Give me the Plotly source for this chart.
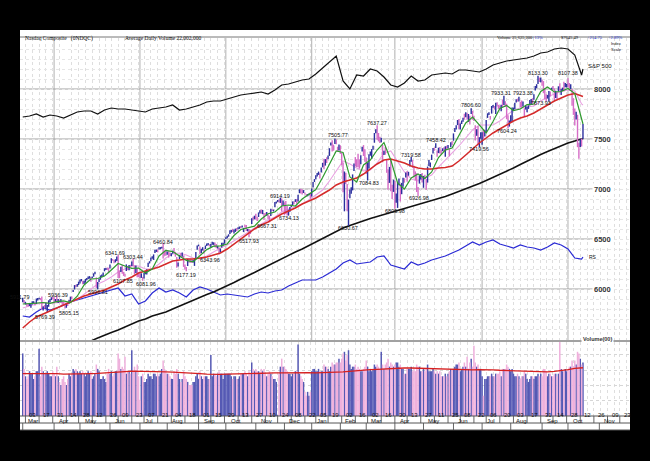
import pandas as pd
import plotly.graph_objects as go

# Nasdaq Composite daily chart, Mar 2017 - Oct 2018

HOLIDAYS = ["2017-04-14", "2017-05-29", "2017-07-04", "2017-09-04", "2017-11-23",
            "2017-12-25", "2018-01-01", "2018-01-15", "2018-02-19", "2018-03-30",
            "2018-05-28", "2018-07-04", "2018-09-03", "2018-11-22"]

highs = [
    5912, 5890, 5872, 5858, 5850, 5861, 5849, 5878, 5878, 5868, 5905, 5910, 5912, 5910, 5925, 5828, 5840, 5862, 5840, 5887, 5900, 5918, 5921,
    5917, 5900, 5936, 5900, 5895, 5900, 5877, 5869, 5838, 5856, 5866, 5891, 5924, 5926, 5990, 6039, 6043, 6050, 6074,
    6096, 6100, 6083, 6083, 6100, 6109, 6125, 6129, 6119, 6126, 6157, 6172, 6116, 6070, 6103, 6136, 6145, 6164, 6208, 6210, 6215, 6213,
    6246, 6308, 6300, 6290, 6298, 6324, 6342, 6186, 6222, 6240, 6172, 6152, 6246, 6230, 6240, 6242, 6275, 6303, 6237, 6236, 6211, 6166,
    6155, 6157, 6121, 6160, 6180, 6197, 6262, 6278, 6314, 6328, 6346, 6392, 6395, 6396, 6417, 6419, 6423, 6461, 6383, 6391,
    6374, 6378, 6364, 6358, 6384, 6409, 6371, 6319, 6265, 6342, 6357, 6365, 6335, 6246, 6221, 6301, 6292, 6302, 6297, 6290, 6309, 6371, 6434,
    6444, 6424, 6403, 6418, 6397, 6435, 6456, 6461, 6448, 6451, 6473, 6467, 6465, 6451, 6432, 6415, 6405, 6463, 6463, 6497,
    6518, 6532, 6547, 6587, 6591, 6602, 6596, 6604, 6610, 6618, 6625, 6629, 6635, 6611, 6643, 6640, 6600, 6599, 6590, 6708, 6722, 6733,
    6753, 6722, 6765, 6788, 6795, 6790, 6759, 6757, 6771, 6745, 6732, 6802, 6798, 6794, 6871, 6874, 6890, 6895, 6914, 6906, 6884,
    6867, 6880, 6830, 6794, 6821, 6844, 6876, 6877, 6898, 6901, 6943, 6997, 7003, 6997, 6989, 6965, 6951, 6949, 6955, 6966,
    7006, 7069, 7099, 7137, 7161, 7174, 7157, 7214, 7262, 7303, 7299, 7317, 7336, 7408, 7465, 7487, 7443, 7506, 7495, 7423, 7445,
    7437, 7360, 7264, 7175, 7163, 7050, 6895, 6995, 7018, 7146, 7256, 7319, 7297, 7352, 7297, 7338, 7422, 7439, 7398,
    7314, 7264, 7347, 7375, 7399, 7433, 7560, 7598, 7637, 7560, 7522, 7513, 7440, 7383, 7421, 7290, 7196, 7221, 7294, 7043, 7094,
    7080, 6956, 7064, 7105, 7049, 7061, 7112, 7108, 7165, 7180, 7172, 7289, 7320, 7289, 7232, 7176, 7158, 7021, 7136, 7150, 7159,
    7131, 7143, 7101, 7223, 7290, 7266, 7344, 7410, 7414, 7458, 7385, 7413, 7419, 7387, 7407, 7418, 7427, 7433, 7441, 7399, 7468, 7480,
    7556, 7609, 7638, 7690, 7700, 7654, 7685, 7712, 7753, 7767, 7761, 7750, 7733, 7807, 7782, 7733, 7637, 7598, 7627, 7518, 7567,
    7568, 7598, 7588, 7689, 7757, 7768, 7729, 7830, 7839, 7830, 7862, 7867, 7842, 7836, 7843, 7894, 7933, 7877, 7853, 7737, 7685,
    7738, 7814, 7815, 7862, 7897, 7904, 7923, 7873, 7885, 7876, 7808, 7838, 7823, 7837, 7891, 7899, 7908, 7947, 8031, 8048, 8133, 8114, 8114,
    8092, 8079, 8009, 7948, 7941, 7979, 7976, 8013, 8030, 8006, 7982, 7969, 8027, 8057, 7999, 8014, 8073, 8060, 8052,
    8107, 8060, 8048, 7999, 7908, 7806, 7772, 7742, 7463, 7498, 7505, 7650,
]

lows = [
    5867, 5856, 5845, 5824, 5826, 5830, 5812, 5844, 5860, 5834, 5850, 5884, 5897, 5888, 5790, 5786, 5805, 5805, 5769, 5822, 5868, 5889, 5897,
    5855, 5871, 5861, 5859, 5861, 5868, 5828, 5836, 5805, 5812, 5829, 5852, 5880, 5897, 5970, 5995, 6017, 6022, 6040,
    6056, 6077, 6047, 6051, 6062, 6087, 6100, 6103, 6073, 6110, 6123, 6148, 6011, 5997, 6069, 6093, 6118, 6131, 6177, 6189, 6190, 6158,
    6206, 6258, 6283, 6257, 6266, 6281, 6110, 6108, 6170, 6153, 6131, 6122, 6180, 6188, 6188, 6220, 6229, 6227, 6146, 6160, 6117, 6118,
    6109, 6111, 6082, 6106, 6147, 6145, 6221, 6255, 6277, 6303, 6291, 6359, 6371, 6366, 6396, 6397, 6406, 6305, 6332, 6333,
    6343, 6314, 6332, 6328, 6353, 6362, 6323, 6213, 6225, 6299, 6325, 6323, 6221, 6196, 6177, 6230, 6262, 6262, 6263, 6266, 6231, 6304, 6393,
    6427, 6347, 6360, 6385, 6353, 6400, 6430, 6437, 6426, 6416, 6443, 6441, 6418, 6408, 6405, 6344, 6367, 6414, 6432, 6453,
    6500, 6508, 6523, 6549, 6566, 6570, 6556, 6571, 6581, 6597, 6601, 6611, 6614, 6569, 6612, 6580, 6577, 6518, 6550, 6651, 6686, 6697,
    6695, 6679, 6720, 6755, 6753, 6748, 6691, 6733, 6733, 6700, 6667, 6729, 6780, 6775, 6818, 6855, 6871, 6864, 6861, 6776, 6832,
    6737, 6751, 6735, 6734, 6773, 6820, 6840, 6848, 6871, 6852, 6874, 6958, 6955, 6944, 6960, 6947, 6925, 6927, 6938, 6903,
    6925, 7016, 7070, 7097, 7125, 7141, 7105, 7164, 7217, 7197, 7234, 7261, 7297, 7331, 7434, 7376, 7383, 7449, 7447, 7374, 7386,
    7351, 7237, 6967, 6777, 7051, 6777, 6631, 6907, 6952, 6986, 7180, 7229, 7220, 7218, 7204, 7248, 7375, 7330, 7273,
    7150, 7085, 7205, 7333, 7300, 7393, 7463, 7558, 7492, 7476, 7461, 7467, 7267, 7341, 7343, 7162, 6992, 7061, 6978, 6901, 6971,
    6806, 6863, 6811, 7038, 6875, 6948, 7023, 7063, 7114, 7072, 7133, 7226, 7272, 7212, 7125, 7086, 6970, 6927, 7054, 7095, 7066,
    7012, 7099, 6993, 7064, 7229, 7218, 7290, 7355, 7382, 7410, 7322, 7359, 7356, 7342, 7378, 7372, 7323, 7386, 7404, 7327, 7418, 7437,
    7483, 7570, 7595, 7639, 7599, 7596, 7650, 7672, 7694, 7717, 7696, 7671, 7645, 7749, 7694, 7681, 7485, 7532, 7443, 7420, 7502,
    7442, 7499, 7525, 7570, 7711, 7741, 7695, 7754, 7812, 7795, 7750, 7825, 7799, 7806, 7777, 7821, 7841, 7823, 7700, 7604, 7624,
    7665, 7667, 7780, 7799, 7865, 7873, 7876, 7815, 7815, 7826, 7726, 7795, 7767, 7801, 7834, 7842, 7860, 7893, 7985, 8008, 8050, 8070, 8068,
    8032, 7958, 7898, 7875, 7904, 7874, 7925, 7990, 7996, 7886, 7910, 7900, 7975, 7982, 7939, 7980, 7978, 8017, 8015,
    8021, 7988, 7999, 7833, 7741, 7634, 7694, 7418, 7303, 7421, 7425, 7499,
]

# u = close up on the day (blue), d = close down (pink)
bar_dir = """
udu dduuu uduuu ddudu uuuud
dudud uddd uduud uuduu
uuduu uuudu uuduu uuuuu dd
uu dduud duddd ududu ddudd
dudu uuuuu uuuud uuudd d
uddu udddu ududd duddd uuuu
u duud uuudu uuddu duuuu
uuuuu duudu uduud duddu du
ddu ududd uddud uuuu dudu
d dduuu ududu uddud duud
uuuu uuduu dudu uuddu ddu
dd duddu uuuud dddu udd
du uuuuu udddu duddd uddu
duuud uudud uuudd ddduu d
uddu uuuud ududd ududu dud
u uuudu uudud ududd duduu
uduu uuduu duddd ududd du
uuu uudud duduu uuudu uuudu
dddd uudud dudud uuduu
ddudd duddu du
"""

# daily volume, billions of shares
volume_b = [
    2.9, 2.1, 1.8, 1.7, 1.8, 2.0, 1.9, 1.9, 1.7, 1.8, 2.0, 2.0, 3.2, 1.8, 2.2, 2.0, 1.9, 1.9, 2.0, 1.9, 1.8, 1.8, 2.0,
    1.9, 1.8, 2.2, 1.8, 1.6, 1.5, 1.7, 1.8, 1.6, 1.5, 1.7, 1.9, 1.8, 1.9, 2.1, 2.0, 2.1, 2.0, 1.9,
    2.0, 1.9, 2.0, 1.9, 1.8, 1.9, 2.0, 1.9, 2.0, 1.7, 1.8, 1.9, 2.3, 2.1, 2.0, 1.7, 1.7, 1.8, 1.7, 1.6, 1.9, 2.1,
    1.9, 2.0, 1.8, 1.9, 2.0, 2.0, 2.9, 2.6, 2.1, 2.2, 2.1, 2.7, 1.9, 2.0, 2.0, 1.9, 3.1, 2.0, 2.2, 2.0, 2.3, 1.8,
    1.1, 1.8, 1.9, 1.6, 1.6, 1.7, 1.9, 1.8, 1.8, 1.7, 1.9, 1.9, 1.8, 1.9, 1.8, 1.9, 2.1, 2.5, 2.1, 2.0,
    1.9, 1.9, 1.8, 1.7, 1.7, 2.0, 1.9, 2.1, 1.9, 1.7, 1.6, 1.7, 2.0, 1.8, 1.7, 1.6, 1.5, 1.5, 1.5, 1.6, 1.6, 1.8, 1.9,
    1.7, 2.0, 1.8, 1.7, 1.8, 1.8, 1.8, 1.7, 1.7, 2.8, 1.8, 1.9, 1.9, 1.8, 1.9, 2.0, 1.9, 1.9, 1.7, 1.9,
    1.9, 1.9, 1.9, 1.9, 1.8, 1.7, 1.8, 1.8, 1.7, 1.7, 1.8, 1.9, 1.9, 1.9, 2.0, 1.9, 1.8, 2.0, 1.9, 2.4, 2.1, 2.0,
    2.1, 2.0, 2.0, 1.9, 2.1, 2.0, 2.1, 1.9, 1.8, 1.9, 2.0, 1.9, 1.8, 1.7, 1.7, 1.6, 0.8, 1.9, 2.2, 2.6, 2.2,
    2.2, 2.1, 2.0, 1.9, 1.9, 1.8, 1.9, 1.9, 2.0, 2.0, 3.5, 1.9, 1.8, 1.7, 1.6, 1.3, 1.2, 1.3, 1.2, 1.3,
    2.0, 2.1, 2.1, 2.0, 2.0, 2.1, 2.0, 2.0, 2.0, 2.3, 2.2, 2.2, 2.1, 2.0, 2.2, 2.4, 2.3, 2.3, 2.4, 2.4, 2.6,
    2.4, 2.6, 2.9, 3.0, 2.5, 2.8, 3.1, 2.3, 2.1, 2.2, 2.2, 2.3, 2.1, 2.2, 2.1, 2.0, 2.0, 2.1, 2.2,
    2.5, 2.2, 2.0, 2.1, 2.0, 2.1, 2.3, 2.2, 2.3, 2.2, 2.1, 3.0, 2.3, 2.1, 2.3, 2.4, 2.6, 2.2, 2.4, 2.3, 2.2,
    2.3, 2.4, 2.4, 2.2, 2.3, 2.1, 2.1, 1.9, 1.9, 2.1, 2.1, 2.1, 2.2, 2.0, 2.1, 2.0, 2.3, 2.2, 2.2, 2.0, 2.0,
    2.1, 2.0, 2.1, 2.3, 2.0, 2.0, 2.0, 2.1, 2.0, 1.9, 2.0, 1.9, 2.0, 1.8, 1.8, 1.8, 1.9, 1.8, 1.9, 2.0, 2.1, 2.1,
    2.1, 2.2, 2.3, 2.3, 2.4, 2.0, 2.1, 2.2, 2.4, 2.2, 2.7, 2.1, 2.4, 2.6, 2.2, 3.4, 2.4, 2.2, 2.3, 2.1, 2.1,
    1.8, 1.2, 1.7, 1.7, 1.8, 1.8, 1.8, 1.9, 1.8, 1.8, 1.9, 1.9, 1.9, 2.0, 1.8, 2.1, 2.1, 2.1, 2.3, 2.2, 2.1,
    2.0, 2.1, 1.9, 1.8, 1.8, 1.9, 1.8, 1.7, 1.8, 1.8, 2.0, 1.9, 1.7, 1.6, 1.7, 1.8, 1.8, 1.7, 1.8, 1.8, 1.9, 1.8, 1.9,
    1.8, 2.1, 2.1, 2.0, 1.8, 1.9, 1.9, 1.8, 1.8, 1.9, 1.9, 1.8, 1.9, 3.7, 2.1, 2.0, 2.0, 2.1, 2.0,
    2.1, 2.2, 2.2, 2.5, 2.2, 2.5, 2.3, 3.0, 2.9, 2.6, 2.3, 2.4,
]

# lines sampled every 5th session (plus the last one)
ma10 = [5850, 5852, 5858, 5865, 5857, 5874, 5882, 5863, 5928, 6040, 6100, 6105,
        6130, 6190, 6255, 6230, 6207, 6210, 6160, 6200, 6330, 6386, 6374, 6330,
        6286, 6272, 6335, 6394, 6429, 6431, 6450, 6535, 6595, 6610, 6629, 6700,
        6753, 6770, 6830, 6840, 6830, 6900, 6946, 6994, 7115, 7250, 7380, 7365,
        7120, 7070, 7240, 7290, 7390, 7465, 7290, 7060, 7000, 7110, 7150, 7105,
        7170, 7315, 7390, 7410, 7530, 7660, 7720, 7645, 7560, 7675, 7805, 7835,
        7785, 7800, 7844, 7850, 7975, 8020, 7970, 7975, 8005, 7955, 7685, 7650]
ma21 = [5810, 5830, 5850, 5858, 5858, 5862, 5868, 5870, 5895, 5945, 6000, 6050,
        6080, 6120, 6170, 6200, 6230, 6230, 6200, 6200, 6250, 6310, 6350, 6360,
        6340, 6310, 6300, 6330, 6370, 6410, 6440, 6480, 6520, 6565, 6610, 6650,
        6690, 6720, 6770, 6800, 6820, 6850, 6890, 6940, 6990, 7080, 7180, 7280,
        7250, 7210, 7180, 7190, 7260, 7360, 7380, 7280, 7170, 7100, 7080, 7110,
        7140, 7220, 7290, 7350, 7430, 7510, 7590, 7640, 7640, 7640, 7680, 7740,
        7790, 7810, 7820, 7830, 7880, 7920, 7950, 7975, 7990, 7980, 7850, 7840]
ma50 = [5610, 5670, 5720, 5750, 5780, 5810, 5840, 5870, 5900, 5930, 5950, 5970,
        5990, 6020, 6050, 6090, 6120, 6160, 6180, 6200, 6220, 6250, 6280, 6290,
        6300, 6300, 6310, 6320, 6340, 6360, 6400, 6450, 6500, 6550, 6600, 6640,
        6670, 6710, 6750, 6780, 6810, 6850, 6880, 6910, 6950, 6990, 7040, 7070,
        7090, 7110, 7150, 7200, 7250, 7290, 7300, 7280, 7260, 7230, 7210, 7200,
        7200, 7210, 7215, 7230, 7280, 7340, 7400, 7460, 7510, 7560, 7600, 7640,
        7680, 7710, 7730, 7760, 7800, 7840, 7880, 7910, 7940, 7955, 7930, 7925]
ma200 = [5330, 5345, 5360, 5375, 5390, 5405, 5420, 5435, 5450, 5465, 5480, 5510,
         5540, 5565, 5590, 5620, 5650, 5680, 5700, 5730, 5750, 5770, 5800, 5830,
         5860, 5890, 5915, 5945, 5970, 6000, 6030, 6065, 6100, 6130, 6165, 6200,
         6235, 6265, 6300, 6335, 6370, 6400, 6435, 6470, 6505, 6540, 6575, 6610,
         6635, 6660, 6685, 6705, 6725, 6745, 6765, 6785, 6800, 6820, 6840, 6860,
         6880, 6900, 6925, 6950, 6975, 7000, 7025, 7055, 7085, 7115, 7150, 7180,
         7210, 7245, 7280, 7315, 7345, 7375, 7405, 7435, 7460, 7480, 7500, 7505]
# relative strength line and S&P 500, drawn on the price scale as in the chart
rs_line = [5730, 5720, 5770, 5810, 5790, 5810, 5840, 5870, 5890, 5910, 5930, 5950,
           5970, 5990, 6010, 5930, 5950, 5850, 5880, 5960, 6010, 5970, 5990, 5960,
           5920, 5990, 6020, 6000, 5970, 5940, 5950, 5940, 5930, 5920, 5950, 5970,
           5960, 5980, 5990, 6030, 6060, 6090, 6090, 6090, 6120, 6160, 6200, 6260,
           6290, 6250, 6260, 6270, 6320, 6330, 6240, 6220, 6200, 6270, 6240, 6260,
           6290, 6310, 6330, 6360, 6390, 6430, 6470, 6440, 6470, 6490, 6450, 6430,
           6410, 6440, 6420, 6410, 6390, 6420, 6460, 6440, 6400, 6310, 6300, 6320]
sp500_line = [7720, 7730, 7750, 7720, 7740, 7730, 7710, 7740, 7770, 7780, 7780, 7750,
              7790, 7810, 7800, 7800, 7790, 7780, 7770, 7800, 7810, 7820, 7840, 7790,
              7800, 7820, 7840, 7870, 7880, 7880, 7900, 7920, 7940, 7950, 7960, 7970,
              7950, 7990, 8040, 8050, 8070, 8090, 8100, 8150, 8210, 8270, 8330, 8080,
              8000, 8140, 8130, 8200, 8180, 8120, 8040, 8020, 8060, 8130, 8080, 8090,
              8140, 8150, 8160, 8150, 8190, 8190, 8180, 8170, 8200, 8240, 8260, 8280,
              8290, 8300, 8310, 8330, 8360, 8370, 8400, 8410, 8400, 8340, 8140, 8200]
vol_ma_b = [1.90, 1.90, 1.92, 1.93, 1.92, 1.90, 1.88, 1.88, 1.89, 1.90, 1.90, 1.91,
            1.92, 1.93, 1.95, 1.98, 2.00, 2.00, 1.99, 1.98, 1.97, 1.97, 1.96, 1.95,
            1.94, 1.92, 1.90, 1.88, 1.87, 1.87, 1.88, 1.89, 1.89, 1.89, 1.90, 1.91,
            1.92, 1.93, 1.93, 1.94, 1.95, 1.95, 1.94, 1.93, 1.93, 1.94, 1.96, 1.97,
            2.00, 2.03, 2.05, 2.07, 2.08, 2.10, 2.12, 2.14, 2.14, 2.14, 2.13, 2.12,
            2.10, 2.09, 2.08, 2.07, 2.07, 2.06, 2.06, 2.07, 2.08, 2.06, 2.04, 2.03,
            2.03, 2.02, 2.00, 1.98, 1.96, 1.97, 1.99, 2.02, 2.07, 2.12, 2.14, 2.15]

pivot_text = ["5911.79", "5936.39", "5769.39", "5805.15", "5996.81", "6341.69", "6107.85",
              "6303.44", "6081.96", "6460.84", "6177.19", "6343.96", "6517.93", "6667.31",
              "6914.19", "6734.13", "7505.77", "6630.67", "7637.27", "7084.83", "6805.98",
              "7319.58", "6926.98", "7458.42", "7806.60", "7419.56", "7933.31", "7923.38",
              "7604.24", "8133.30", "7873.93", "8107.38"]
pivot_day = ["2017-03-01", "2017-04-05", "2017-03-27", "2017-04-13", "2017-05-18", "2017-06-09",
             "2017-06-12", "2017-06-26", "2017-07-06", "2017-07-27", "2017-08-21", "2017-09-25",
             "2017-10-25", "2017-11-15", "2017-11-28", "2017-12-06", "2018-01-26", "2018-02-09",
             "2018-03-13", "2018-03-02", "2018-04-02", "2018-04-18", "2018-04-25", "2018-05-14",
             "2018-06-20", "2018-06-28", "2018-07-25", "2018-08-09", "2018-07-30", "2018-08-29",
             "2018-09-11", "2018-10-01"]

vol_peak_text = ["2.9B", "3.2B", "2.2B", "2.3B", "3.1B", "2.5B", "2.8B", "2.4B", "3.5B",
                 "3.1B", "3.0B", "2.3B", "3.4B", "2.3B", "3.7B"]
vol_peak_day = ["2017-03-01", "2017-03-17", "2017-04-05", "2017-05-17", "2017-06-23",
                "2017-07-27", "2017-09-15", "2017-10-27", "2017-12-15", "2018-02-09",
                "2018-03-16", "2018-05-04", "2018-06-22", "2018-07-27", "2018-09-21"]

price_ticks = [6000, 6500, 7000, 7500, 8000]
volume_ticks = [10_800_000, 14_900_000, 20_500_000, 28_200_000]

# where each pivot label sits: price level of its centre and a horizontal nudge in px
pivot_label_y = [5920, 5940, 5720, 5760, 5970, 6360, 6080, 6320, 6050, 6470, 6140, 6290,
                 6480, 6630, 6930, 6710, 7540, 6610, 7660, 7060, 6780, 7340, 6910, 7490,
                 7840, 7400, 7960, 7960, 7580, 8160, 7860, 8160]
pivot_dx = [-3, 1, -2, 4, 0, -3, 3, 0, 3, 0, 0, -9, 0, -2, 0, 0,
            3, -1, 0, 1, 0, 0, 1, 0, 0, 0, -3, 4, -1, 0, -8, 0]

# ---------------------------------------------------------------------------
days = [d.strftime("%Y-%m-%d") for d in pd.bdate_range("2017-03-01", "2018-10-16")
        if d.strftime("%Y-%m-%d") not in HOLIDAYS]
bar_dir = "".join(bar_dir.split())
n = len(days)
assert n == len(highs) == len(lows) == len(volume_b) == len(bar_dir), (
    n, len(highs), len(lows), len(volume_b), len(bar_dir))
pos = {d: i for i, d in enumerate(days)}
ma_idx = list(range(0, n, 5)) + [n - 1]
ma_days = [days[i] for i in ma_idx]
assert len(ma_days) == len(ma10) == len(ma200) == len(rs_line) == len(vol_ma_b)

UP, DOWN = "#2b2f9e", "#d56cc6"
VOL_UP, VOL_DOWN = "#5559b4", "#efb0dc"
VOL_FLOOR = 7.0e6

fig = go.Figure()


def segments(sel, bottoms, tops):
    xs, ys = [], []
    for d, b, t, c in zip(days, bottoms, tops, bar_dir):
        if c == sel:
            xs += [d, d, None]
            ys += [b, t, None]
    return xs, ys


vol00 = [v * 1e7 for v in volume_b]  # volume in hundreds of shares
for sel, col in (("u", VOL_UP), ("d", VOL_DOWN)):
    xs, ys = segments(sel, [VOL_FLOOR] * n, vol00)
    fig.add_trace(go.Scatter(x=xs, y=ys, mode="lines", line=dict(color=col, width=1.5),
                             xaxis="x2", yaxis="y2", hoverinfo="skip"))
fig.add_trace(go.Scatter(x=ma_days, y=[v * 1e7 for v in vol_ma_b], mode="lines",
                         line=dict(color="#d62020", width=1.3), xaxis="x2", yaxis="y2"))

fig.add_trace(go.Scatter(x=ma_days, y=sp500_line, mode="lines", line=dict(color="#111", width=1.2)))
fig.add_trace(go.Scatter(x=ma_days, y=rs_line, mode="lines", line=dict(color="#2a2ad4", width=1.2)))
fig.add_trace(go.Scatter(x=ma_days, y=ma200, mode="lines", line=dict(color="#111", width=1.5)))
fig.add_trace(go.Scatter(x=ma_days, y=ma21, mode="lines", line=dict(color="#e9a2e2", width=1.1)))
for sel, col in (("d", DOWN), ("u", UP)):
    xs, ys = segments(sel, lows, highs)
    fig.add_trace(go.Scatter(x=xs, y=ys, mode="lines", line=dict(color=col, width=1.4),
                             hoverinfo="skip"))
fig.add_trace(go.Scatter(x=ma_days, y=ma50, mode="lines", line=dict(color="#d42a2a", width=1.5)))
fig.add_trace(go.Scatter(x=ma_days, y=ma10, mode="lines", line=dict(color="#2e9a2e", width=1.2)))

FONT = "Liberation Sans"
ann = []
for text, d, ly, dx in zip(pivot_text, pivot_day, pivot_label_y, pivot_dx):
    ann.append(dict(x=d, y=ly, xref="x", yref="y", text=text, xshift=dx, showarrow=False,
                    borderpad=0, font=dict(family=FONT, size=5.5, color="#111")))

for text, d in zip(vol_peak_text, vol_peak_day):
    ann.append(dict(x=d, y=vol00[pos[d]], xref="x2", yref="y2", text=f"<b>{text}</b>",
                    yanchor="bottom", yshift=0, showarrow=False, borderpad=0,
                    font=dict(family=FONT, size=5, color="#111")))

for t in price_ticks:
    ann.append(dict(x=0.972, y=t, xref="paper", yref="y", text=f"<b>{t}</b>", showarrow=False,
                    bgcolor="white", font=dict(family=FONT, size=7.5, color="#333")))
for t in volume_ticks:
    ann.append(dict(x=0.973, y=t, xref="paper", yref="y2", text=f"<b>{t:,}</b>", showarrow=False,
                    bgcolor="white", font=dict(family=FONT, size=5.5, color="#333")))
ann.append(dict(x=0.973, y=0.214, xref="paper", yref="paper", text="<b>Volume(00)</b>",
                showarrow=False, bgcolor="white",
                font=dict(family=FONT, size=5.5, color="#333")))

ann.append(dict(x=ma_days[-1], y=sp500_line[-1], text="S&P 500", xanchor="left", xshift=3, yshift=3,
                showarrow=False, font=dict(family=FONT, size=6, color="#111")))
ann.append(dict(x=ma_days[-1], y=rs_line[-1], text="RS", xanchor="left", xshift=4,
                showarrow=False, font=dict(family=FONT, size=5, color="#111")))

HEAD = dict(family="Liberation Serif", size=5.5, color="#111")
SMALL = dict(family="Liberation Serif", size=4.5, color="#111")
BLUE = dict(family="Liberation Serif", size=4.5, color="#2233cc")
for x, text, f in ((0.005, "Nasdaq Composite   (0NDQC)", HEAD),
                   (0.169, "Average Daily Volume 22,002,000", HEAD),
                   (0.778, "Volume 25,635,200", SMALL), (0.836, "+13%", BLUE),
                   (0.883, "$7645.49", SMALL), (0.926, "+214.75", BLUE), (0.961, "+2.89%", BLUE)):
    ann.append(dict(x=x, y=0.9925, xref="paper", yref="paper", text=text, xanchor="left",
                    showarrow=False, font=f))
for y, text in ((0.9775, "Index"), (0.9625, "Scale")):
    ann.append(dict(x=0.965, y=y, xref="paper", yref="paper", text=text, xanchor="left",
                    showarrow=False, font=dict(family=FONT, size=4, color="#111")))

# date axis: day numbers every second Friday, month names below
label_fridays = pd.date_range("2017-03-03", "2018-11-23", freq="2W-FRI")
month_starts = ["2017-03-01"]
for prev, d in zip(days, days[1:]):
    if d[:7] != prev[:7]:
        month_starts.append(d)
month_starts.append("2018-11-01")

shapes = [dict(type="rect", xref="paper", yref="paper", x0=0, x1=1, y0=0, y1=1,
               fillcolor="white", line=dict(width=0), layer="below")]
for f in label_fridays:
    d = f.strftime("%Y-%m-%d")
    ann.append(dict(x=d, y=0.0262, xref="x", yref="paper", text=f.strftime("%d"), xanchor="left",
                    xshift=2, showarrow=False, font=dict(family=FONT, size=6, color="#111")))
    shapes.append(dict(type="line", xref="x", yref="paper", x0=d, x1=d, y0=0.0175, y1=0.035,
                       line=dict(color="#666", width=1)))
for d in month_starts:
    ann.append(dict(x=d, y=0.009, xref="x", yref="paper", text=pd.Timestamp(d).strftime("%b"),
                    xanchor="left", xshift=3, showarrow=False,
                    font=dict(family=FONT, size=6, color="#111")))
    shapes.append(dict(type="line", xref="x", yref="paper", x0=d, x1=d, y0=0, y1=0.0175,
                       line=dict(color="#666", width=1)))
for y in (0.0, 0.0175, 0.035):
    shapes.append(dict(type="line", xref="paper", yref="paper", x0=0, x1=1, y0=y, y1=y,
                       line=dict(color="#555", width=1)))

for q in ["2017-04-03", "2017-07-03", "2017-10-02", "2018-01-02", "2018-04-02", "2018-07-02",
          "2018-10-01"]:
    shapes.append(dict(type="line", xref="x", yref="paper", x0=q, x1=q, y0=0.225, y1=0.98,
                       line=dict(color="#b0b0b0", width=1), layer="below"))
for t in price_ticks:
    shapes.append(dict(type="line", xref="paper", yref="y", x0=0, x1=0.956, y0=t, y1=t,
                       line=dict(color="#a0a0a0", width=1), layer="below"))
shapes.append(dict(type="line", xref="paper", yref="paper", x0=0, x1=1, y0=0.9825, y1=0.9825,
                   line=dict(color="#777", width=1)))
shapes.append(dict(type="line", xref="paper", yref="paper", x0=0, x1=1, y0=0.2225, y1=0.2225,
                   line=dict(color="#444", width=1)))

weekly = [f.strftime("%Y-%m-%d") for f in pd.date_range("2017-03-03", "2018-11-30", freq="W-FRI")]
xcommon = dict(range=["2017-02-27", "2018-12-04 12:00"], tickvals=weekly, showticklabels=False,
               showgrid=True, gridcolor="#dedede", griddash="dot", gridwidth=1, zeroline=False,
               showline=False, ticks="",
               rangebreaks=[dict(bounds=["sat", "mon"]), dict(values=HOLIDAYS)])

fig.update_layout(
    width=650, height=461,
    margin=dict(l=20, r=20, t=30, b=31),
    paper_bgcolor="black", plot_bgcolor="white",
    showlegend=False,
    xaxis=dict(anchor="y", **xcommon),
    xaxis2=dict(anchor="y2", matches="x", **xcommon),
    yaxis=dict(domain=[0.225, 0.98], range=[5490, 8510], dtick=100, tick0=0,
               showticklabels=False, showgrid=True, gridcolor="#e6e6e6", griddash="dot",
               zeroline=False, ticks=""),
    yaxis2=dict(domain=[0.035, 0.22], type="log", range=[6.895, 7.566], tickvals=volume_ticks,
                showticklabels=False, showgrid=True, gridcolor="#d6d6d6", griddash="dot",
                zeroline=False, ticks=""),
    annotations=ann,
    shapes=shapes,
)

fig.write_html("out.html", config={"displayModeBar": False}, post_script=(
    "document.body.style.margin='0';document.body.style.background='black';"
    "document.body.style.overflow='hidden';"))
